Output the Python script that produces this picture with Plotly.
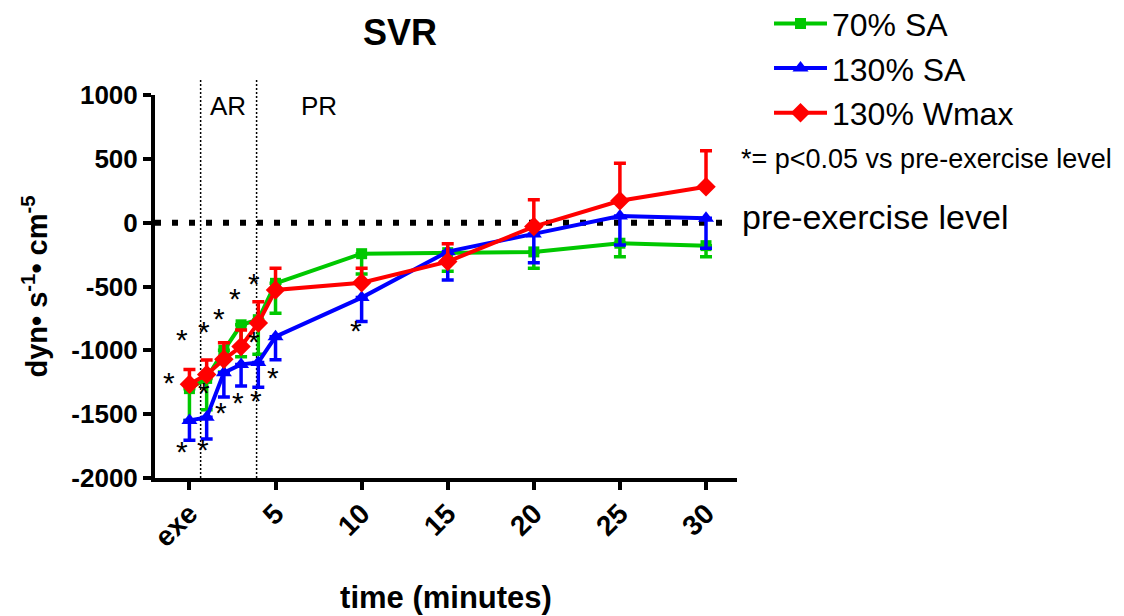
import plotly.graph_objects as go

# Minutes after exercise; 0 is the end-of-exercise ("exe") sample
times = [0, 1, 2, 3, 4, 5, 10, 15, 20, 25, 30]

# Change in SVR from the pre-exercise level (dyn·s·cm^-5), mean and SEM
sa70 = [-1300, -1220, -1000, -800, -760, -475, -243, -235, -229, -161, -180]
sa70_sem = [250, 245, 170, 250, 270, 235, 160, 145, 128, 105, 86]

sa130 = [-1550, -1525, -1175, -1110, -1095, -893, -587, -227, -88, 52, 34]
sa130_sem = [155, 170, 190, 170, 195, 180, 188, 222, 225, 227, 234]

wmax130 = [-1265, -1190, -1070, -970, -785, -527, -470, -305, -31, 172, 282]
wmax130_sem = [115, 115, 130, 130, 165, 170, 113, 140, 210, 293, 282]

x_tickvals = [0, 5, 10, 15, 20, 25, 30]
x_ticktext = ["exe", "5", "10", "15", "20", "25", "30"]
y_tickvals = [-2000, -1500, -1000, -500, 0, 500, 1000]
y_ticktext = ["-2000", "-1500", "-1000", "-500", "0", "500", "1000"]

# Significance markers (p<0.05 vs pre-exercise): time, level
star_t = [-1.21, -0.41, 0.85, 1.73, 2.65, 3.76, 0.84, 3.76,
          -0.41, 0.79, 1.83, 2.84, 3.86, 4.85, 9.66]
star_v = [-1258, -924, -861, -762, -600, -488, -1341, -940,
          -1801, -1788, -1493, -1420, -1402, -1218, -854]

# Phase boundaries (acute / prolonged recovery)
phase_bounds = [0.65, 3.9]
phase_labels = ["AR", "PR"]
phase_label_t = [2.25, 7.5]

FONT = "Liberation Sans, Arial, sans-serif"
GREEN = "rgb(0,200,0)"
BLUE = "rgb(0,0,255)"
RED = "rgb(255,0,0)"

fig = go.Figure()


def add_series(name, y, sem, color, symbol, size, above):
    zeros = [0] * len(sem)
    fig.add_trace(go.Scatter(
        x=times, y=y, name=name,
        mode="lines+markers",
        line=dict(color=color, width=4),
        marker=dict(symbol=symbol, size=size, color=color),
        error_y=dict(type="data", symmetric=False,
                     array=sem if above else zeros,
                     arrayminus=zeros if above else sem,
                     color=color, thickness=3.5, width=6),
        cliponaxis=False,
    ))


add_series("70% SA", sa70, sa70_sem, GREEN, "square", 11, above=False)
add_series("130% SA", sa130, sa130_sem, BLUE, "triangle-up", 14, above=False)
add_series("130% Wmax", wmax130, wmax130_sem, RED, "diamond", 15, above=True)

shapes = [
    # pre-exercise reference line
    dict(type="line", xref="x", yref="y", x0=-2, x1=31.5, y0=0, y1=0,
         line=dict(color="black", width=6, dash="6px,11px"), layer="below"),
]
for b in phase_bounds:
    shapes.append(dict(type="line", xref="x", yref="paper", x0=b, x1=b,
                       y0=0, y1=1.04,
                       line=dict(color="black", width=1.5, dash="2px,2px"),
                       layer="below"))

annotations = []
for t, lab in zip(phase_label_t, phase_labels):
    annotations.append(dict(x=t, y=1.015, xref="x", yref="paper", text=lab,
                            showarrow=False, font=dict(family=FONT, size=26,
                                                       color="black")))
for t, v in zip(star_t, star_v):
    annotations.append(dict(x=t, y=v, xref="x", yref="y", text="*",
                            showarrow=False, yshift=1,
                            font=dict(family=FONT, size=30, color="black")))

annotations.append(dict(x=1.005, y=0, xref="paper", yref="y",
                        text="pre-exercise level", showarrow=False,
                        xanchor="left", yshift=6,
                        font=dict(family=FONT, size=34, color="black")))
annotations.append(dict(x=1.003, y=0.877, xref="paper", yref="paper",
                        text="*= p<0.05 vs pre-exercise level",
                        showarrow=False, xanchor="left",
                        font=dict(family=FONT, size=27, color="black")))

fig.update_layout(
    width=1124, height=616,
    margin=dict(l=155, r=387, t=95, b=138, autoexpand=False),
    plot_bgcolor="white", paper_bgcolor="white",
    title=dict(text="SVR", x=(400 / 1124), xanchor="center", y=0.968,
               font=dict(family=FONT, size=36, color="black", weight="bold")),
    font=dict(family=FONT, color="black"),
    showlegend=True,
    legend=dict(x=1.055, y=1.258, xanchor="left", yanchor="top",
                font=dict(family=FONT, size=32, color="black"),
                bgcolor="rgba(0,0,0,0)", traceorder="normal",
                itemwidth=53),
    shapes=shapes,
    annotations=annotations,
)

fig.update_xaxes(
    range=[-2.0, 31.8], tickvals=x_tickvals, ticktext=x_ticktext,
    tickangle=-45, showgrid=False, zeroline=False,
    showline=True, linecolor="black", linewidth=4,
    ticks="outside", ticklen=8, tickwidth=4, tickcolor="black",
    ticklabelstandoff=-4,
    tickfont=dict(family=FONT, size=28, color="black", weight="bold"),
    title=dict(text="time (minutes)", standoff=36,
               font=dict(family=FONT, size=31, color="black", weight="bold")),
)
fig.update_yaxes(
    range=[-2000, 1000], tickvals=y_tickvals, ticktext=y_ticktext,
    showgrid=False, zeroline=False,
    showline=True, linecolor="black", linewidth=4,
    ticks="outside", ticklen=8, tickwidth=4, tickcolor="black",
    tickfont=dict(family=FONT, size=26, color="black", weight="bold"),
    title=dict(text="dyn• s<sup>-1</sup>• cm<sup>-5</sup>", standoff=16,
               font=dict(family=FONT, size=29, color="black", weight="bold")),
)

fig.write_html("out.html")
